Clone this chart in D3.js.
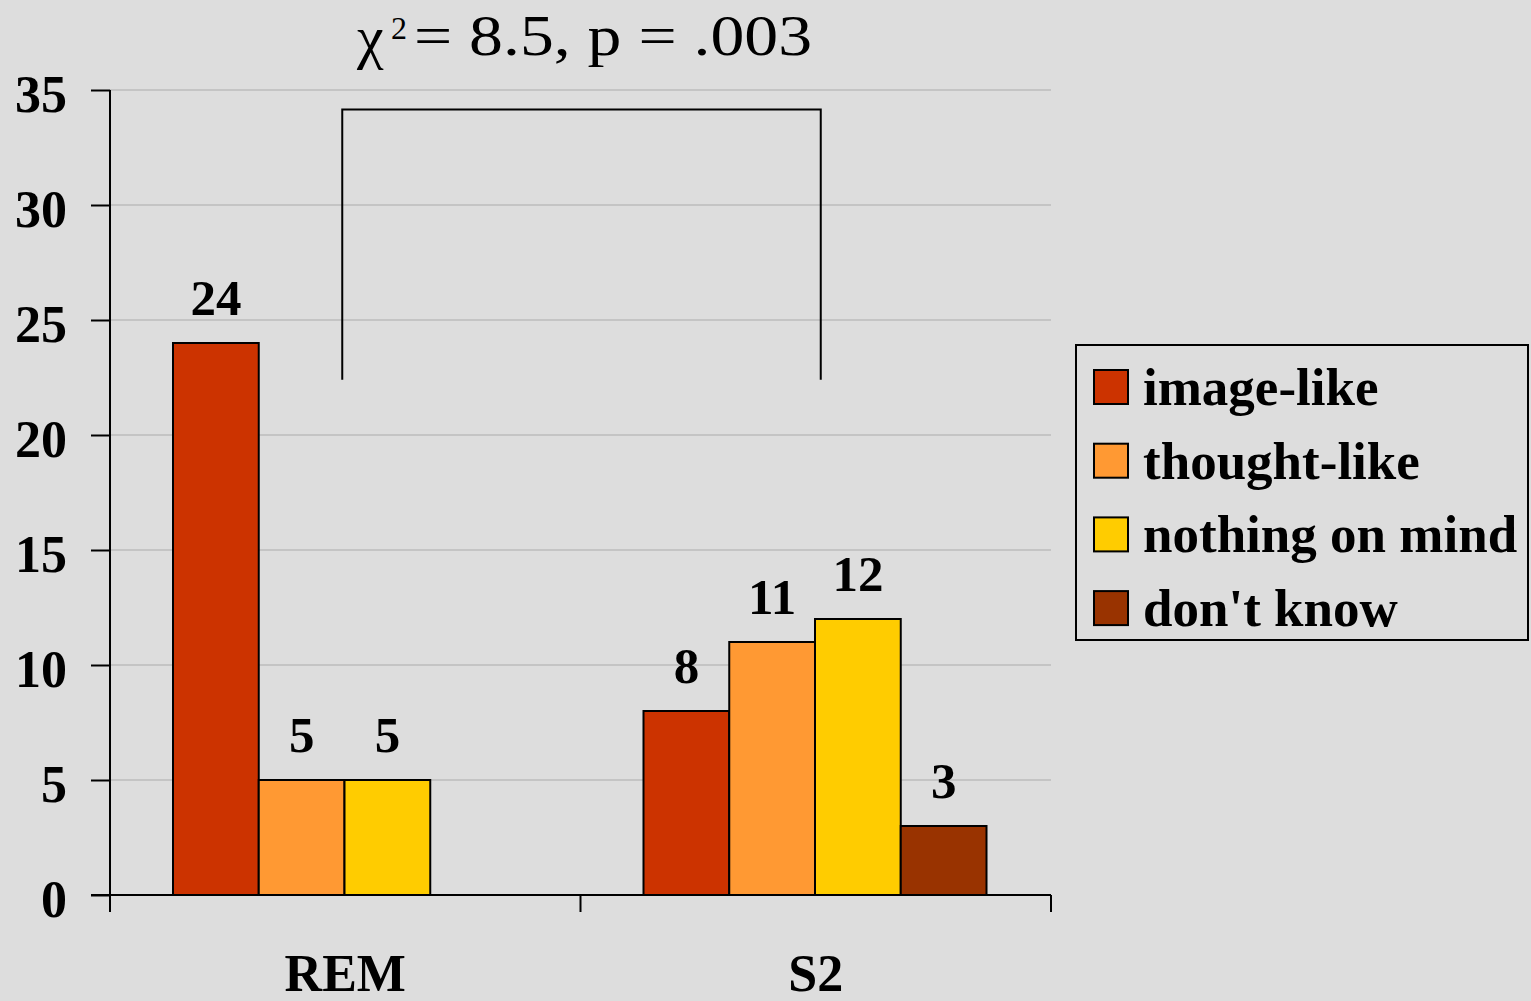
<!DOCTYPE html>
<html>
<head>
<meta charset="utf-8">
<script src="https://cdn.jsdelivr.net/npm/d3@7"></script>
<style>
  html, body { margin: 0; padding: 0; background: #dddddd; }
  svg { display: block; }
  text { font-family: "Liberation Serif", "Times New Roman", serif; fill: #000; }
</style>
</head>
<body>
<svg id="chart" width="1531" height="1001"></svg>
<script>
// Report categories per sleep stage
const categories = ["REM", "S2"];
const seriesNames = ["image-like", "thought-like", "nothing on mind", "don't know"];
const seriesColors = ["#cc3300", "#ff9933", "#ffcc00", "#993300"];
// values[series][category]
const imageLike = [24, 8];
const thoughtLike = [5, 11];
const nothingOnMind = [5, 12];
const dontKnow = [0, 3];
const yTicks = [0, 5, 10, 15, 20, 25, 30, 35];
const statText = "= 8.5, p = .003";

const seriesValues = [imageLike, thoughtLike, nothingOnMind, dontKnow];

const svg = d3.select("#chart");
const margin = { left: 110, top: 90, right: 480, bottom: 106 };
const W = 1531, H = 1001;
const plotW = W - margin.left - margin.right;
const plotH = H - margin.top - margin.bottom;

const x0 = d3.scaleBand().domain(categories).range([0, plotW]).padding(0);
const x1 = d3.scaleBand().domain(seriesNames).range([63, x0.bandwidth() - 64.5]).padding(0);
const y = d3.scaleLinear().domain([0, 35]).range([plotH, 0]);

const g = svg.append("g").attr("transform", `translate(${margin.left},${margin.top})`);

// horizontal gridlines
g.append("g").selectAll("line").data(yTicks.filter(t => t > 0)).join("line")
  .attr("x1", 0).attr("x2", plotW)
  .attr("y1", d => y(d)).attr("y2", d => y(d))
  .attr("stroke", "#c4c4c4").attr("stroke-width", 2);

// bars
const rows = [];
categories.forEach((c, ci) => {
  seriesNames.forEach((s, si) => {
    rows.push({ cat: c, series: s, value: seriesValues[si][ci], color: seriesColors[si] });
  });
});
const shown = rows.filter(d => d.value > 0);

g.append("g").selectAll("rect").data(shown).join("rect")
  .attr("x", d => x0(d.cat) + x1(d.series))
  .attr("y", d => y(d.value))
  .attr("width", x1.bandwidth())
  .attr("height", d => y(0) - y(d.value))
  .attr("fill", d => d.color)
  .attr("stroke", "#000").attr("stroke-width", 2);

// value labels
g.append("g").selectAll("text").data(shown).join("text")
  .attr("x", d => x0(d.cat) + x1(d.series) + x1.bandwidth() / 2)
  .attr("y", d => y(d.value) - 28)
  .attr("text-anchor", "middle")
  .attr("font-weight", "bold").attr("font-size", 51)
  .text(d => d.value);

// y axis
const yAxis = g.append("g").call(d3.axisLeft(y).tickValues(yTicks).tickSize(19).tickPadding(24));
yAxis.select(".domain").attr("d", `M0,${y(35)}V${y(0)}`).attr("stroke", "#000").attr("stroke-width", 2);
yAxis.selectAll(".tick line").attr("stroke", "#000").attr("stroke-width", 2);
yAxis.selectAll(".tick text")
  .attr("font-family", "Liberation Serif, Times New Roman, serif")
  .attr("font-weight", "bold").attr("font-size", 52).attr("fill", "#000")
  .attr("dy", "0.42em");

// x axis baseline with category boundary ticks
const xg = g.append("g").attr("transform", `translate(0,${plotH})`);
xg.append("line").attr("x1", -19).attr("x2", plotW).attr("y1", 0).attr("y2", 0)
  .attr("stroke", "#000").attr("stroke-width", 2);
const bounds = categories.map(c => x0(c)).concat([plotW]);
xg.selectAll("line.tick").data(bounds).join("line").attr("class", "tick")
  .attr("x1", d => d).attr("x2", d => d).attr("y1", 0).attr("y2", 17)
  .attr("stroke", "#000").attr("stroke-width", 2);
xg.selectAll("text.cat").data(categories).join("text").attr("class", "cat")
  .attr("x", d => x0(d) + x0.bandwidth() / 2)
  .attr("y", 96)
  .attr("text-anchor", "middle")
  .attr("font-weight", "bold").attr("font-size", 52)
  .text(d => d);

// significance bracket between the two stages
const bracketTop = 34.15, bracketBottom = 22.4;
const bx = [x0("REM") + x0.bandwidth() / 2 - 3, x0("S2") + x0.bandwidth() / 2 + 5];
g.append("path")
  .attr("d", `M${bx[0]},${y(bracketBottom)}V${y(bracketTop)}H${bx[1]}V${y(bracketBottom)}`)
  .attr("fill", "none").attr("stroke", "#000").attr("stroke-width", 2);

// test statistic
svg.append("text").attr("x", 357).attr("y", 57).attr("font-size", 60)
  .attr("font-family", "DejaVu Serif, serif").text("χ");
svg.append("text").attr("x", 391).attr("y", 39).attr("font-size", 32).text("2");
svg.append("text").attr("x", 414).attr("y", 55).attr("font-size", 56)
  .attr("textLength", 398).attr("lengthAdjust", "spacingAndGlyphs")
  .text(statText);

// legend
const legend = svg.append("g").attr("transform", "translate(1076,345)");
legend.append("rect").attr("x", 0).attr("y", 0).attr("width", 452).attr("height", 295)
  .attr("fill", "#dddddd").attr("stroke", "#000").attr("stroke-width", 2);
const items = legend.selectAll("g.item").data(seriesNames).join("g").attr("class", "item")
  .attr("transform", (d, i) => `translate(0,${25 + i * 73.7})`);
items.append("rect").attr("x", 18).attr("y", 0).attr("width", 34).attr("height", 34)
  .attr("fill", (d, i) => seriesColors[i]).attr("stroke", "#000").attr("stroke-width", 2);
items.append("text").attr("x", 67).attr("y", 35)
  .attr("font-weight", "bold").attr("font-size", 53)
  .text(d => d);
</script>
</body>
</html>
